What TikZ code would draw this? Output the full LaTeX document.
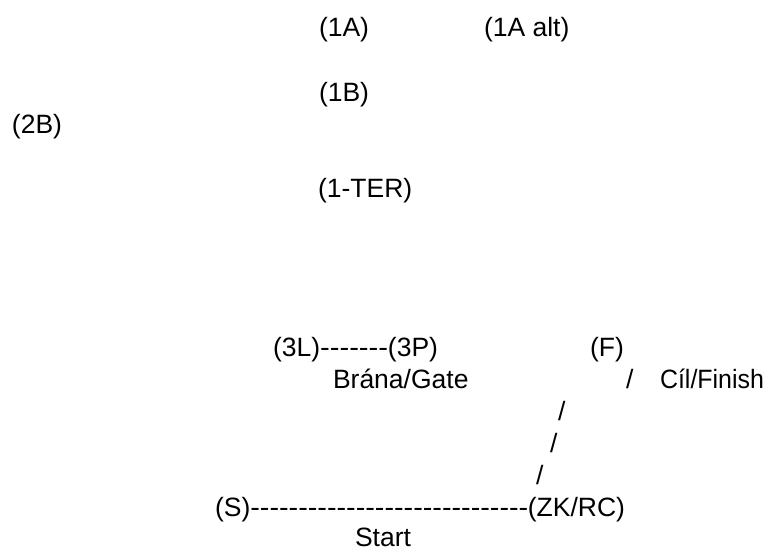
\documentclass[tikz,border=0pt]{standalone}
\usepackage{fontspec}
\usepackage{graphicx}
\setmainfont{Liberation Sans}[Ligatures=TeXOff]
\newcommand{\stretchto}[2]{\resizebox{#1}{\height}{#2}}
\newcommand{\hy}{-{}}
\tikzset{
  txt/.style={inner sep=0pt, outer sep=0pt, anchor=base west,
    font=\fontsize{26.5}{32}\selectfont, text=black},
  txte/.style={txt, anchor=base east}
}
\begin{document}
\begin{tikzpicture}[x=1pt, y=-1pt]
\fill[white] (0,0) rectangle (765,551);
\useasboundingbox (0,0) rectangle (765,551);
% upper labels
\node[txt] (a1)    at (319,37)  {(1A)};
\node[txt] (a1alt) at (484,37)  {(1A alt)};
\node[txt] (b1)    at (319,101) {(1B)};
\node[txt] (b2)    at (12,133)  {(2B)};
\node[txt] (ter)   at (318,197) {(1-TER)};
% gate
\node[txt]  (l3)  at (273,356.5) {(3L)};
\node[txte] (p3)  at (438,356.5) {(3P)};
\node[txt]  (gdash) at (l3.base east) {\stretchto{68pt}{\hy\hy\hy\hy\hy\hy\hy}};
\node[txt]  (gate) at (333,388.5) {Brána/Gate};
% finish
\node[txt] (f)    at (590,356.5) {(F)};
\node[txt] (sl1)  at (626,388.5) {/};
\node[txt] (fin)  at (660,388.5) {\stretchto{104pt}{Cíl/Finish}};
\node[txt] (sl2)  at (558,420)   {/};
\node[txt] (sl3)  at (550,452)   {/};
\node[txt] (sl4)  at (536,484)   {/};
% start line
\node[txt]  (s)    at (215,516) {(S)};
\node[txte] (zk)   at (625,516) {(ZK/RC)};
\node[txt]  (sdash) at (s.base east) {\stretchto{278pt}{\hy\hy\hy\hy\hy\hy\hy\hy\hy\hy\hy\hy\hy\hy\hy\hy\hy\hy\hy\hy\hy\hy\hy\hy\hy\hy\hy\hy\hy}};
\node[txt]  (start) at (355,546) {Start};
\end{tikzpicture}
\end{document}
